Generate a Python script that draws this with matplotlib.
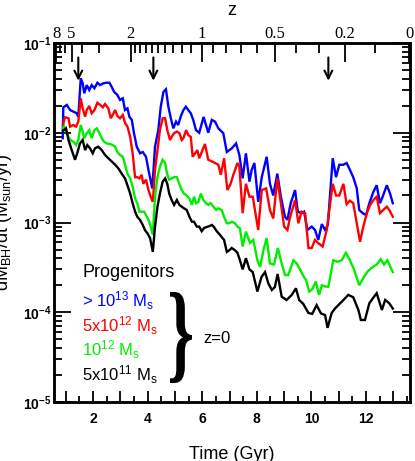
import numpy as np
import matplotlib
matplotlib.use('Agg')
import matplotlib.pyplot as plt
from matplotlib.ticker import FixedLocator, NullFormatter, LogLocator, MultipleLocator
from matplotlib.textpath import TextPath
from matplotlib.font_manager import FontProperties
from matplotlib.patches import PathPatch
from matplotlib.transforms import Affine2D, IdentityTransform

plt.rcParams['font.family'] = ['Liberation Sans', 'DejaVu Sans']
plt.rcParams['mathtext.fontset'] = 'custom'
plt.rcParams['mathtext.rm'] = 'Liberation Sans'
plt.rcParams['mathtext.it'] = 'Liberation Sans:italic'
plt.rcParams['mathtext.bf'] = 'Liberation Sans:bold'

# ---------------- data (Time in Gyr, dM_BH/dt in Msun/yr) ----------------
t_blue = [0.89, 0.91, 1.04, 1.16, 1.28, 1.40, 1.46, 1.55, 1.62, 1.68, 1.77, 1.86, 1.95, 2.05, 2.16,
          2.26, 2.38, 2.50, 2.60, 2.68, 2.77, 2.89, 2.99, 3.09, 3.17, 3.26, 3.33, 3.42, 3.50, 3.60,
          3.72, 3.82, 3.94, 4.03, 4.17, 4.27, 4.39, 4.48, 4.58, 4.67, 4.76, 4.85, 4.94, 5.04, 5.12,
          5.21, 5.31, 5.40, 5.49, 5.58, 5.67, 5.77, 5.89, 6.05, 6.22, 6.35, 6.47, 6.59, 6.77, 6.90,
          7.08, 7.24, 7.36, 7.48, 7.60, 7.73, 7.81, 7.91, 8.05, 8.18, 8.36, 8.48, 8.60, 8.75, 8.88,
          9.03, 9.12, 9.24, 9.40, 9.50, 9.64, 9.73, 9.85, 10.01, 10.13, 10.25, 10.38, 10.50, 10.60,
          10.78, 10.90, 11.02, 11.17, 11.29, 11.41, 11.53, 11.66, 11.75, 11.88, 12.00, 12.12, 12.27,
          12.39, 12.51, 12.61, 12.76, 12.88, 12.98]
mdot_blue = [8.7e-3, 1.92e-2, 2.04e-2, 1.79e-2, 1.72e-2, 1.65e-2, 1.51e-2, 4.04e-2, 3.56e-2, 2.75e-2,
             3.40e-2, 2.99e-2, 3.40e-2, 3.13e-2, 3.61e-2, 3.40e-2, 3.56e-2, 3.61e-2, 3.61e-2, 3.26e-2,
             2.86e-2, 2.64e-2, 2.32e-2, 2.42e-2, 1.79e-2, 1.87e-2, 1.51e-2, 1.39e-2, 9.9e-3, 7.0e-3,
             5.9e-3, 6.1e-3, 5.4e-3, 3.85e-3, 2.4e-3, 7.0e-3, 1.07e-2, 1.95e-2, 2.86e-2, 3.05e-2,
             1.95e-2, 1.45e-2, 1.12e-2, 1.33e-2, 1.22e-2, 1.51e-2, 1.79e-2, 1.95e-2, 1.79e-2, 1.65e-2,
             1.39e-2, 1.07e-2, 1.0e-2, 1.5e-2, 1.0e-2, 1.39e-2, 1.33e-2, 1.12e-2, 9.9e-3, 6.1e-3,
             6.7e-3, 7.6e-3, 5.65e-3, 3.1e-3, 5.9e-3, 2.85e-3, 3.85e-3, 4.6e-3, 1.7e-3, 3.2e-3,
             5.4e-3, 2.7e-3, 2.0e-3, 3.5e-3, 1.94e-3, 1.16e-3, 1.07e-3, 1.64e-3, 2.3e-3, 1.32e-3,
             1.27e-3, 1.32e-3, 8.25e-4, 9.0e-4, 8.25e-4, 6.4e-4, 9.6e-4, 8.25e-4, 9.4e-4,
             5.2e-3, 3.2e-3, 4.4e-3, 4.4e-3, 4.6e-3, 3.85e-3, 3.2e-3, 2.4e-3, 1.38e-3, 1.27e-3,
             1.21e-3, 1.64e-3, 2.2e-3, 2.6e-3, 1.64e-3, 1.94e-3, 2.6e-3, 2.1e-3, 1.64e-3]

t_red = [0.90, 0.97, 1.10, 1.16, 1.28, 1.38, 1.46, 1.55, 1.62, 1.71, 1.77, 1.86, 1.95, 2.05, 2.16,
         2.26, 2.36, 2.44, 2.56, 2.65, 2.72, 2.81, 2.89, 2.99, 3.09, 3.17, 3.26, 3.36, 3.45, 3.54,
         3.62, 3.70, 3.78, 3.84, 3.94, 4.03, 4.11, 4.19, 4.27, 4.36, 4.45, 4.55, 4.64, 4.72, 4.82,
         4.88, 4.97, 5.07, 5.16, 5.25, 5.31, 5.41, 5.49, 5.58, 5.65, 5.74, 5.82, 5.89, 6.10, 6.22,
         6.35, 6.47, 6.59, 6.68, 6.80, 6.92, 7.04, 7.14, 7.29, 7.36, 7.48, 7.60, 7.73, 7.85, 8.05,
         8.18, 8.34, 8.48, 8.60, 8.75, 8.88, 9.00, 9.12, 9.22, 9.40, 9.52, 9.64, 9.77, 9.89, 10.01,
         10.13, 10.25, 10.41, 10.56, 10.78, 10.90, 11.02, 11.17, 11.29, 11.41, 11.53, 11.66, 11.78,
         11.90, 12.03, 12.15, 12.27, 12.39, 12.51, 12.63, 12.76, 12.85, 12.98]
mdot_red = [1.22e-2, 1.49e-2, 1.45e-2, 1.17e-2, 1.22e-2, 1.17e-2, 1.33e-2, 2.42e-2, 1.87e-2, 1.51e-2,
            1.79e-2, 1.99e-2, 1.65e-2, 1.79e-2, 2.16e-2, 2.04e-2, 1.92e-2, 2.09e-2, 1.87e-2, 1.45e-2,
            1.58e-2, 1.79e-2, 1.54e-2, 1.45e-2, 1.58e-2, 1.29e-2, 1.17e-2, 9.0e-3, 5.9e-3, 3.2e-3,
            3.2e-3, 3.1e-3, 3.4e-3, 2.7e-3, 3.0e-3, 2.3e-3, 1.94e-3, 1.7e-3, 3.85e-3, 6.4e-3,
            1.07e-2, 1.45e-2, 1.45e-2, 1.07e-2, 8.3e-3, 9.0e-3, 9.9e-3, 1.03e-2, 9.9e-3, 8.3e-3,
            8.7e-3, 1.07e-2, 9.4e-3, 9.0e-3, 5.4e-3, 5.9e-3, 6.4e-3, 5.2e-3, 7.5e-3, 5.0e-3,
            4.8e-3, 4.6e-3, 4.4e-3, 3.4e-3, 5.2e-3, 2.3e-3, 2.7e-3, 3.4e-3, 4.6e-3, 4.2e-3,
            1.27e-3, 2.7e-3, 1.94e-3, 1.94e-3, 8.25e-4, 2.3e-3, 2.4e-3, 1.38e-3, 1.11e-3, 3.1e-3,
            1.64e-3, 9.0e-4, 8.25e-4, 1.16e-3, 1.78e-3, 9.8e-4, 1.32e-3, 1.27e-3, 5.2e-4, 5.2e-4,
            6.4e-4, 5.9e-4, 5.4e-4, 8.25e-4, 2.7e-3, 2.0e-3, 2.0e-3, 2.7e-3, 1.6e-3, 1.75e-3,
            1.64e-3, 9.8e-4, 6.1e-4, 9.0e-4, 1.27e-3, 1.57e-3, 1.78e-3, 1.94e-3, 1.27e-3, 1.38e-3,
            1.5e-3, 1.38e-3, 1.16e-3]

t_green = [0.90, 0.94, 1.04, 1.16, 1.28, 1.38, 1.46, 1.55, 1.62, 1.68, 1.77, 1.86, 1.95, 2.05, 2.14,
           2.23, 2.32, 2.40, 2.50, 2.62, 2.72, 2.81, 2.89, 2.99, 3.09, 3.17, 3.26, 3.36, 3.45, 3.54,
           3.62, 3.70, 3.78, 3.87, 3.94, 4.03, 4.11, 4.19, 4.27, 4.36, 4.45, 4.55, 4.64, 4.72, 4.79,
           4.88, 4.97, 5.07, 5.16, 5.25, 5.33, 5.43, 5.53, 5.62, 5.70, 5.77, 5.86, 5.95, 6.04, 6.14,
           6.22, 6.31, 6.41, 6.51, 6.59, 6.71, 6.80, 6.90, 6.99, 7.08, 7.20, 7.29, 7.38, 7.48, 7.60,
           7.75, 7.87, 8.02, 8.12, 8.24, 8.36, 8.48, 8.63, 8.77, 8.91, 9.03, 9.15, 9.34, 9.46, 9.58,
           9.73, 9.80, 9.92, 10.03, 10.16, 10.28, 10.38, 10.53, 10.62, 10.80, 10.95, 11.11, 11.26,
           11.41, 11.56, 11.75, 11.93, 12.08, 12.25, 12.39, 12.54, 12.66, 12.78, 12.98]
mdot_green = [1.13e-2, 1.17e-2, 9.9e-3, 8.3e-3, 7.95e-3, 7.3e-3, 8.3e-3, 1.22e-2, 1.03e-2, 8.7e-3,
              9.9e-3, 1.07e-2, 8.7e-3, 1.07e-2, 1.12e-2, 9.9e-3, 8.7e-3, 7.95e-3, 7.6e-3, 7.5e-3,
              7.3e-3, 7.0e-3, 6.1e-3, 5.65e-3, 5.4e-3, 4.4e-3, 3.5e-3, 3.1e-3, 2.5e-3, 1.86e-3,
              1.64e-3, 1.32e-3, 1.32e-3, 1.32e-3, 1.21e-3, 1.07e-3, 9.0e-4, 7.3e-4, 1.94e-3, 3.2e-3,
              4.2e-3, 5.0e-3, 4.6e-3, 3.4e-3, 3.0e-3, 3.1e-3, 3.2e-3, 3.2e-3, 2.7e-3, 2.3e-3,
              2.1e-3, 2.0e-3, 1.86e-3, 1.57e-3, 1.94e-3, 1.64e-3, 1.7e-3, 2.1e-3, 1.78e-3, 1.64e-3,
              1.57e-3, 1.64e-3, 1.5e-3, 1.38e-3, 1.44e-3, 1.38e-3, 1.16e-3, 9.8e-4, 9.8e-4, 1.02e-3,
              9.8e-4, 9.0e-4, 8.6e-4, 5.4e-4, 7.9e-4, 5.9e-4, 6.4e-4, 3.8e-4, 3.2e-4, 4.9e-4,
              6.7e-4, 3.5e-4, 3.4e-4, 5.2e-4, 3.5e-4, 2.6e-4, 2.6e-4, 3.8e-4, 3.5e-4, 3.0e-4,
              2.45e-4, 2.3e-4, 1.7e-4, 1.8e-4, 2.2e-4, 1.56e-4, 2.0e-4, 1.93e-4, 1.93e-4, 3.8e-4,
              3.65e-4, 3.8e-4, 4.6e-4, 3.8e-4, 3.0e-4, 2.0e-4, 2.5e-4, 2.9e-4, 3.2e-4, 3.4e-4,
              3.9e-4, 3.4e-4, 3.8e-4, 2.8e-4]

t_black = [0.90, 0.94, 1.01, 1.10, 1.22, 1.34, 1.42, 1.52, 1.62, 1.71, 1.79, 1.89, 1.99, 2.07, 2.19,
           2.32, 2.44, 2.56, 2.68, 2.81, 2.93, 3.05, 3.17, 3.26, 3.36, 3.45, 3.54, 3.62, 3.72, 3.82,
           3.90, 3.99, 4.09, 4.19, 4.27, 4.36, 4.45, 4.55, 4.64, 4.72, 4.79, 4.88, 4.97, 5.07, 5.16,
           5.25, 5.33, 5.43, 5.53, 5.62, 5.70, 5.80, 5.89, 5.98, 6.07, 6.16, 6.26, 6.35, 6.43, 6.53,
           6.63, 6.71, 6.80, 6.90, 6.99, 7.08, 7.20, 7.29, 7.38, 7.48, 7.60, 7.73, 7.85, 8.02, 8.17,
           8.30, 8.42, 8.55, 8.66, 8.76, 8.91, 9.09, 9.28, 9.43, 9.55, 9.70, 9.89, 10.03, 10.19,
           10.35, 10.50, 10.59, 10.74, 10.86, 11.11, 11.35, 11.53, 11.72, 11.81, 11.96, 12.12, 12.25,
           12.39, 12.58, 12.70, 12.85, 12.98]
mdot_black = [1.05e-2, 1.07e-2, 1.12e-2, 8.3e-3, 6.4e-3, 5.0e-3, 5.9e-3, 7.6e-3, 8.3e-3, 6.4e-3,
              7.3e-3, 6.7e-3, 5.9e-3, 6.7e-3, 7.0e-3, 6.4e-3, 5.65e-3, 5.2e-3, 4.8e-3, 4.4e-3,
              4.0e-3, 3.5e-3, 3.1e-3, 2.6e-3, 2.1e-3, 1.64e-3, 1.32e-3, 1.16e-3, 1.07e-3, 9.4e-4,
              8.25e-4, 7.6e-4, 6.7e-4, 4.7e-4, 9.0e-4, 1.5e-3, 2.1e-3, 2.85e-3, 3.1e-3, 2.7e-3,
              2.1e-3, 1.78e-3, 1.57e-3, 1.78e-3, 1.57e-3, 1.5e-3, 1.44e-3, 1.38e-3, 1.16e-3, 1.02e-3,
              1.02e-3, 9.0e-4, 9.0e-4, 8.0e-4, 8.7e-4, 8.9e-4, 9.1e-4, 9.4e-4, 8.9e-4, 8.0e-4,
              7.4e-4, 6.9e-4, 6.4e-4, 4.7e-4, 4.9e-4, 5.2e-4, 4.9e-4, 4.6e-4, 3.8e-4, 3.0e-4,
              4.0e-4, 3.0e-4, 2.8e-4, 1.7e-4, 2.47e-4, 2.8e-4, 2.1e-4, 1.77e-4, 1.91e-4, 2.67e-4,
              1.49e-4, 1.37e-4, 1.56e-4, 1.85e-4, 1.37e-4, 1.24e-4, 9.8e-5, 9.6e-5, 1.2e-4,
              9.7e-5, 9.3e-5, 6.7e-5, 9.8e-5, 1.1e-4, 1.31e-4, 1.56e-4, 1.47e-4, 1.06e-4, 8.2e-5,
              8.2e-5, 1.26e-4, 1.43e-4, 1.63e-4, 1.06e-4, 1.37e-4, 1.26e-4, 1.1e-4]

series_colors = ['#0000ff', '#ff0000', '#00ee00', '#000000']
legend_labels = [r'> 10$^{13}$ M$_{\rm s}$', r'5x10$^{12}$ M$_{\rm s}$',
                 r'10$^{12}$ M$_{\rm s}$', r'5x10$^{11}$ M$_{\rm s}$']

arrow_times = [1.46, 4.21, 10.62]

y_ticks = [1e-5, 1e-4, 1e-3, 1e-2, 1e-1]
y_ticklabels = [r'$\mathbf{10^{-5}}$', r'$\mathbf{10^{-4}}$', r'$\mathbf{10^{-3}}$',
                r'$\mathbf{10^{-2}}$', r'$\mathbf{10^{-1}}$']
x_major = list(range(1, 14))
x_ticklabels = [str(v) if v % 2 == 0 else '' for v in x_major]

z_major = [8, 5, 2, 1, 0.5, 0.2, 0]
z_major_labels = ['8', '5', '2', '1', '0.5', '0.2', '0']
z_minor = [7, 6, 4, 3, 1.9, 1.8, 1.7, 1.6, 1.5, 1.4, 1.3, 1.2, 1.1,
           0.9, 0.8, 0.7, 0.6, 0.4, 0.3, 0.1]


def t_of_z(z, H0=73.0, Om=0.25):
    z = np.asarray(z, dtype=float)
    OL = 1.0 - Om
    tH = 977.8 / H0
    return tH * 2.0 / (3.0 * np.sqrt(OL)) * np.arcsinh(np.sqrt(OL / Om) * (1.0 + z) ** -1.5)


W, H = 415, 461
fig = plt.figure(figsize=(W / 100, H / 100), dpi=100)
L, R, T, B = 54, 410, 43, 402
ax = fig.add_axes([L / W, 1 - B / H, (R - L) / W, (B - T) / H])

for t, v, c in zip([t_blue, t_red, t_green, t_black],
                   [mdot_blue, mdot_red, mdot_green, mdot_black], series_colors):
    ax.plot(t, v, color=c, lw=1.7, solid_joinstyle='miter')

ax.set_yscale('log')
ax.set_ylim(1e-5, 1e-1)
ax.set_xlim(0.57, 13.61)

ax.yaxis.set_major_locator(FixedLocator(y_ticks))
ax.set_yticklabels(y_ticklabels, fontsize=10)
ax.yaxis.set_minor_locator(LogLocator(base=10, subs=np.arange(2, 10)))
ax.yaxis.set_minor_formatter(NullFormatter())

ax.set_xticks(x_major)
ax.set_xticklabels(x_ticklabels, fontsize=10, fontweight='bold')
ax.xaxis.set_minor_locator(MultipleLocator(0.5))

ax.tick_params(axis='y', which='major', direction='in', length=12, width=1.3, right=True, pad=2)
ax.tick_params(axis='y', which='minor', direction='in', length=6, width=1.3, right=True)
ax.tick_params(axis='x', which='major', direction='in', length=8, width=1.3, top=False, pad=7)
ax.tick_params(axis='x', which='minor', direction='in', length=4, width=1.3, top=False)
for s in ax.spines.values():
    s.set_linewidth(1.8)

# top redshift axis
ax2 = ax.twiny()
ax2.set_xlim(ax.get_xlim())
ax2.set_xticks(t_of_z(z_major))
ax2.set_xticklabels(z_major_labels, fontsize=12, family='Liberation Serif')
ax2.xaxis.set_minor_locator(FixedLocator(t_of_z(z_minor)))
ax2.tick_params(axis='x', which='major', direction='in', length=14, width=1.3, pad=1)
ax2.tick_params(axis='x', which='minor', direction='in', length=7, width=1.3)
for s in ax2.spines.values():
    s.set_linewidth(1.8)

# arrows
for ta in arrow_times:
    ax.annotate('', xy=(ta, 0.038), xytext=(ta, 0.069),
                arrowprops=dict(arrowstyle='->', lw=1.5, color='k', mutation_scale=14,
                                shrinkA=0, shrinkB=0))

# labels
fig.text(232 / W, 1 - 15 / H, 'z', fontsize=13, ha='center', va='baseline')
fig.text(232 / W, 1 - 459 / H, 'Time (Gyr)', fontsize=13, ha='center', va='baseline')
fig.text(4 / W, 1 - 222 / H, r'dM$_{\rm BH}$/dt (M$_{\rm sun}$/yr)', fontsize=13,
         rotation=90, ha='center', va='center')

fig.text(82 / W, 1 - 277 / H, 'Progenitors', fontsize=13, ha='left', va='baseline')
for lab, c, yb in zip(legend_labels, series_colors, [307, 332, 356, 381]):
    fig.text(82 / W, 1 - yb / H, lab, fontsize=12, color=c, ha='left', va='baseline')

# large curly brace, stretched to fit its box (pixel coordinates)
bp = TextPath((0, 0), '}', size=100, prop=FontProperties(family='Liberation Serif', weight='bold'))
ext = bp.get_extents()
bx0, bx1, by0, by1 = 170, 192, H - 383, H - 292
tr = (Affine2D().translate(-ext.x0, -ext.y0)
      .scale((bx1 - bx0) / ext.width, (by1 - by0) / ext.height)
      .translate(bx0, by0))
brace = PathPatch(tr.transform_path(bp), facecolor='k', edgecolor='none',
                  transform=IdentityTransform())
fig.add_artist(brace)
fig.text(203 / W, 1 - 343 / H, 'z=0', fontsize=12, ha='left', va='baseline')

fig.savefig('out.png', dpi=100)
